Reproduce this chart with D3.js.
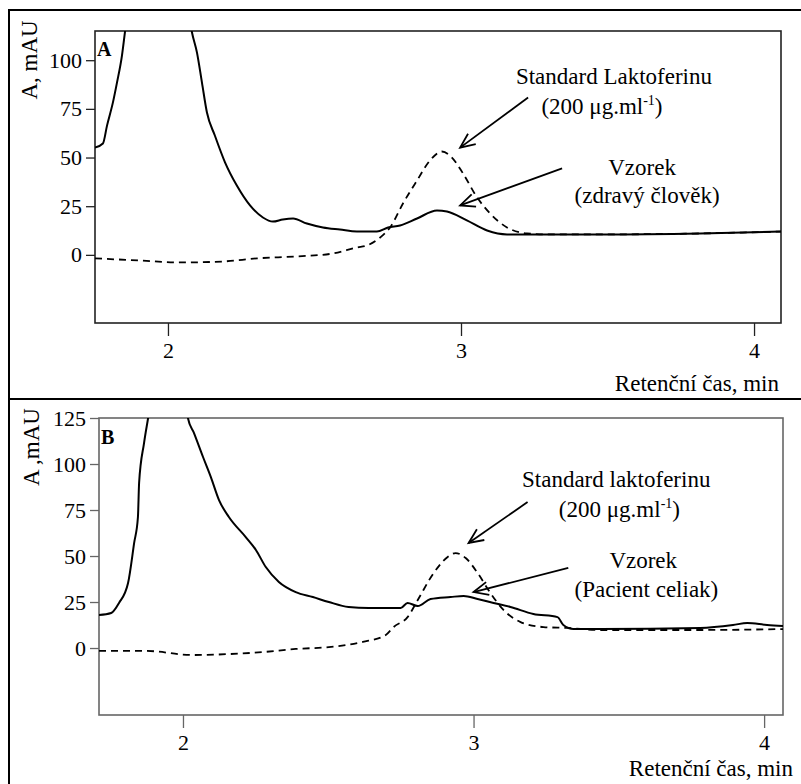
<!DOCTYPE html>
<html>
<head>
<meta charset="utf-8">
<script src="https://cdn.jsdelivr.net/npm/d3@7"></script>
<style>
  body { margin: 0; background: #fff; }
  text { font-family: "Liberation Serif", "Times New Roman", serif; fill: #000; }
</style>
</head>
<body>
<script>
// Panel A - zdravy clovek  [cas (min), A (mAU)]
var vzorekA = [
  [1.751, 55.1], [1.778, 57.2], [1.792, 66.4], [1.812, 78.2], [1.826, 88.5], [1.843, 102.4],
  [1.853, 114.2], [1.87, 135], [1.96, 170], [2.06, 135],
  [2.082, 114.2], [2.099, 103.9], [2.116, 88.5], [2.133, 73.1], [2.160, 61.3], [2.195, 47.4],
  [2.235, 35.6], [2.280, 25.4], [2.324, 19.2], [2.358, 17.1], [2.392, 18.2], [2.427, 18.7],
  [2.474, 16.1], [2.529, 14.1], [2.587, 13.0], [2.645, 12.0], [2.713, 12.0], [2.751, 14.1],
  [2.792, 15.1], [2.850, 18.7], [2.918, 22.8], [2.952, 22.3], [3.020, 17.7], [3.089, 12.5],
  [3.157, 10.5], [3.474, 10.5], [3.816, 11.0], [4.092, 12.0]
];
var standardA = [
  [1.751, -1.8], [1.904, -2.9], [2.041, -3.9], [2.188, -3.4], [2.304, -1.8], [2.440, -0.8],
  [2.563, 0.7], [2.645, 3.8], [2.679, 4.8], [2.724, 8.9], [2.758, 14.1], [2.802, 26.4],
  [2.850, 38.2], [2.894, 48.5], [2.935, 53.1], [2.969, 50.0], [3.007, 41.8], [3.055, 29.5],
  [3.099, 21.3], [3.157, 14.1], [3.225, 11.0], [3.304, 10.5], [3.474, 10.5], [3.816, 11.0],
  [4.092, 12.0]
];

// Panel B - pacient celiak
var vzorekB = [
  [1.711, 17.9], [1.753, 19.0], [1.780, 24.5], [1.811, 35.3], [1.832, 57.1], [1.845, 71.2],
  [1.849, 89.7], [1.866, 111.4], [1.880, 125.0], [1.90, 145], [1.95, 160], [2.00, 145],
  [2.017, 125.0], [2.038, 116.8], [2.069, 103.8], [2.096, 92.9], [2.124, 80.4], [2.158, 71.2],
  [2.216, 60.3], [2.251, 53.3], [2.285, 44.0], [2.330, 35.9], [2.388, 30.4], [2.447, 27.7],
  [2.502, 25.0], [2.570, 22.3], [2.639, 21.7], [2.749, 21.7], [2.773, 24.5], [2.808, 22.8],
  [2.852, 26.6], [2.921, 27.7], [2.966, 28.3], [3.014, 26.6], [3.069, 24.5], [3.127, 22.3],
  [3.206, 18.5], [3.289, 16.8], [3.309, 12.5], [3.344, 10.3], [3.436, 10.3], [3.780, 10.9],
  [3.893, 12.5], [3.942, 13.6], [4.010, 12.5], [4.065, 12.0]
];
var standardB = [
  [1.711, -1.6], [1.873, -1.6], [2.034, -3.8], [2.158, -3.3], [2.275, -2.2], [2.388, -0.5],
  [2.502, 0.5], [2.619, 3.3], [2.698, 7.1], [2.725, 11.4], [2.773, 16.8], [2.808, 26.1],
  [2.863, 40.8], [2.911, 49.5], [2.938, 51.6], [2.973, 48.9], [3.014, 40.8], [3.058, 29.9],
  [3.103, 20.7], [3.162, 14.1], [3.241, 11.4], [3.323, 10.9], [3.436, 9.8], [3.780, 9.8],
  [4.065, 10.3]
];

var xTicks = [2, 3, 4];
var yTicksA = [0, 25, 50, 75, 100];
var yTicksB = [0, 25, 50, 75, 100, 125];

// popisky: text, x (min), y (mAU)
var labelsA = [
  ["Standard Laktoferinu", 3.522, 88.0],
  ["(200 μg.ml", 3.481, 72.6, "-1", ")"],
  ["Vzorek", 3.618, 40.8],
  ["(zdravý člověk)", 3.635, 26.9]
];
var labelsB = [
  ["Standard laktoferinu", 3.491, 87.5],
  ["(200 μg.ml", 3.502, 71.2, "-1", ")"],
  ["Vzorek", 3.584, 43.5],
  ["(Pacient celiak)", 3.595, 27.7]
];
// sipky: [od x, od y, k x, k y]
var arrowsA = [[3.229, 80.8, 2.997, 55.1], [3.345, 44.4, 2.997, 25.4]];
var arrowsB = [[3.186, 79.3, 2.983, 57.1], [3.326, 43.5, 3.000, 30.4]];

var width = 801, height = 784;

var svg = d3.select("body")
  .append("svg")
  .attr("width", width)
  .attr("height", height);

// vnejsi ramecky
svg.append("rect").attr("x", 9).attr("y", 10).attr("width", 810).attr("height", 389)
  .attr("fill", "none").attr("stroke", "#000").attr("stroke-width", 2);
svg.append("rect").attr("x", 9).attr("y", 399).attr("width", 810).attr("height", 400)
  .attr("fill", "none").attr("stroke", "#000").attr("stroke-width", 2);

function panel(cfg) {
  var x = d3.scaleLinear().domain(cfg.xDomain).range([cfg.left, cfg.right]);
  var y = d3.scaleLinear().domain(cfg.yDomain).range([cfg.bottom, cfg.top]);

  svg.append("clipPath").attr("id", "clip" + cfg.name)
    .append("rect")
    .attr("x", cfg.left).attr("y", cfg.top)
    .attr("width", cfg.right - cfg.left).attr("height", cfg.bottom - cfg.top);

  // osa y
  var gy = svg.append("g")
    .attr("transform", "translate(" + cfg.left + ",0)")
    .call(d3.axisLeft(y).tickValues(cfg.yTicks).tickFormat(d3.format("d"))
      .tickSize(9).tickSizeOuter(0).tickPadding(4));
  gy.select(".domain").remove();
  gy.selectAll(".tick line").attr("stroke", cfg.axisColor).attr("stroke-width", 1.3);
  gy.selectAll(".tick text").attr("font-size", 22).attr("font-family", "Liberation Serif");

  // osa x
  var gx = svg.append("g")
    .attr("transform", "translate(0," + cfg.bottom + ")")
    .call(d3.axisBottom(x).tickValues(xTicks).tickFormat(d3.format("d"))
      .tickSize(13).tickSizeOuter(0).tickPadding(6));
  gx.select(".domain").remove();
  gx.selectAll(".tick line").attr("stroke", cfg.axisColor).attr("stroke-width", 1.3);
  gx.selectAll(".tick text").attr("font-size", 22).attr("font-family", "Liberation Serif");

  // ramecek grafu
  svg.append("rect")
    .attr("x", cfg.left).attr("y", cfg.top)
    .attr("width", cfg.right - cfg.left).attr("height", cfg.bottom - cfg.top)
    .attr("fill", "none").attr("stroke", cfg.axisColor).attr("stroke-width", 1.6);

  var line = d3.line()
    .x(function(d) { return x(d[0]); })
    .y(function(d) { return y(d[1]); })
    .curve(d3.curveMonotoneX);

  var plot = svg.append("g").attr("clip-path", "url(#clip" + cfg.name + ")");
  plot.append("path").datum(cfg.standard)
    .attr("d", line).attr("fill", "none").attr("stroke", "#000")
    .attr("stroke-width", 1.8).attr("stroke-dasharray", "7,5");
  plot.append("path").datum(cfg.vzorek)
    .attr("d", line).attr("fill", "none").attr("stroke", "#000")
    .attr("stroke-width", 2);

  // sipky
  cfg.arrows.forEach(function(a) {
    var x1 = x(a[0]), y1 = y(a[1]), x2 = x(a[2]), y2 = y(a[3]);
    var ang = Math.atan2(y2 - y1, x2 - x1);
    var len = 16, spread = 0.42;
    svg.append("line").attr("x1", x1).attr("y1", y1).attr("x2", x2).attr("y2", y2)
      .attr("stroke", "#000").attr("stroke-width", 1.8);
    svg.append("path")
      .attr("d", "M" + (x2 - len * Math.cos(ang - spread)) + "," + (y2 - len * Math.sin(ang - spread)) +
        "L" + x2 + "," + y2 +
        "L" + (x2 - len * Math.cos(ang + spread)) + "," + (y2 - len * Math.sin(ang + spread)))
      .attr("fill", "none").attr("stroke", "#000").attr("stroke-width", 1.8);
  });

  // popisky
  cfg.labels.forEach(function(l) {
    var t = svg.append("text")
      .attr("x", x(l[1])).attr("y", y(l[2]))
      .attr("text-anchor", "middle")
      .attr("font-size", 23);
    t.append("tspan").text(l[0]);
    if (l[3]) {
      t.append("tspan").attr("font-size", 14).attr("dy", -9).text(l[3]);
      t.append("tspan").attr("dy", 9).text(l[4]);
    }
  });

  // nazvy os
  svg.append("text")
    .attr("x", cfg.xTitleX).attr("y", cfg.xTitleY)
    .attr("text-anchor", "end").attr("font-size", 23)
    .text("Retenční čas, min");
  svg.append("text")
    .attr("transform", "translate(" + cfg.yTitleX + "," + cfg.yTitleY + ") rotate(-90)")
    .attr("text-anchor", "middle").attr("font-size", 23)
    .text(cfg.yTitle);

  // pismeno panelu
  svg.append("text")
    .attr("x", cfg.left + 2).attr("y", cfg.letterY)
    .attr("font-size", 20).attr("font-weight", "bold")
    .text(cfg.name);
}

panel({
  name: "A", xDomain: [1.751, 4.092], yDomain: [-35, 115],
  left: 95, right: 781, top: 31, bottom: 323,
  yTicks: yTicksA, axisColor: "#222",
  vzorek: vzorekA, standard: standardA,
  arrows: arrowsA, labels: labelsA,
  xTitleX: 779, xTitleY: 391, yTitle: "A, mAU", yTitleX: 37, yTitleY: 60, letterY: 56
});

panel({
  name: "B", xDomain: [1.711, 4.065], yDomain: [-36.4, 125],
  left: 99, right: 783, top: 418, bottom: 715,
  yTicks: yTicksB, axisColor: "#666",
  vzorek: vzorekB, standard: standardB,
  arrows: arrowsB, labels: labelsB,
  xTitleX: 793, xTitleY: 776, yTitle: "A ,mAU", yTitleX: 39, yTitleY: 447, letterY: 444
});
</script>
</body>
</html>
